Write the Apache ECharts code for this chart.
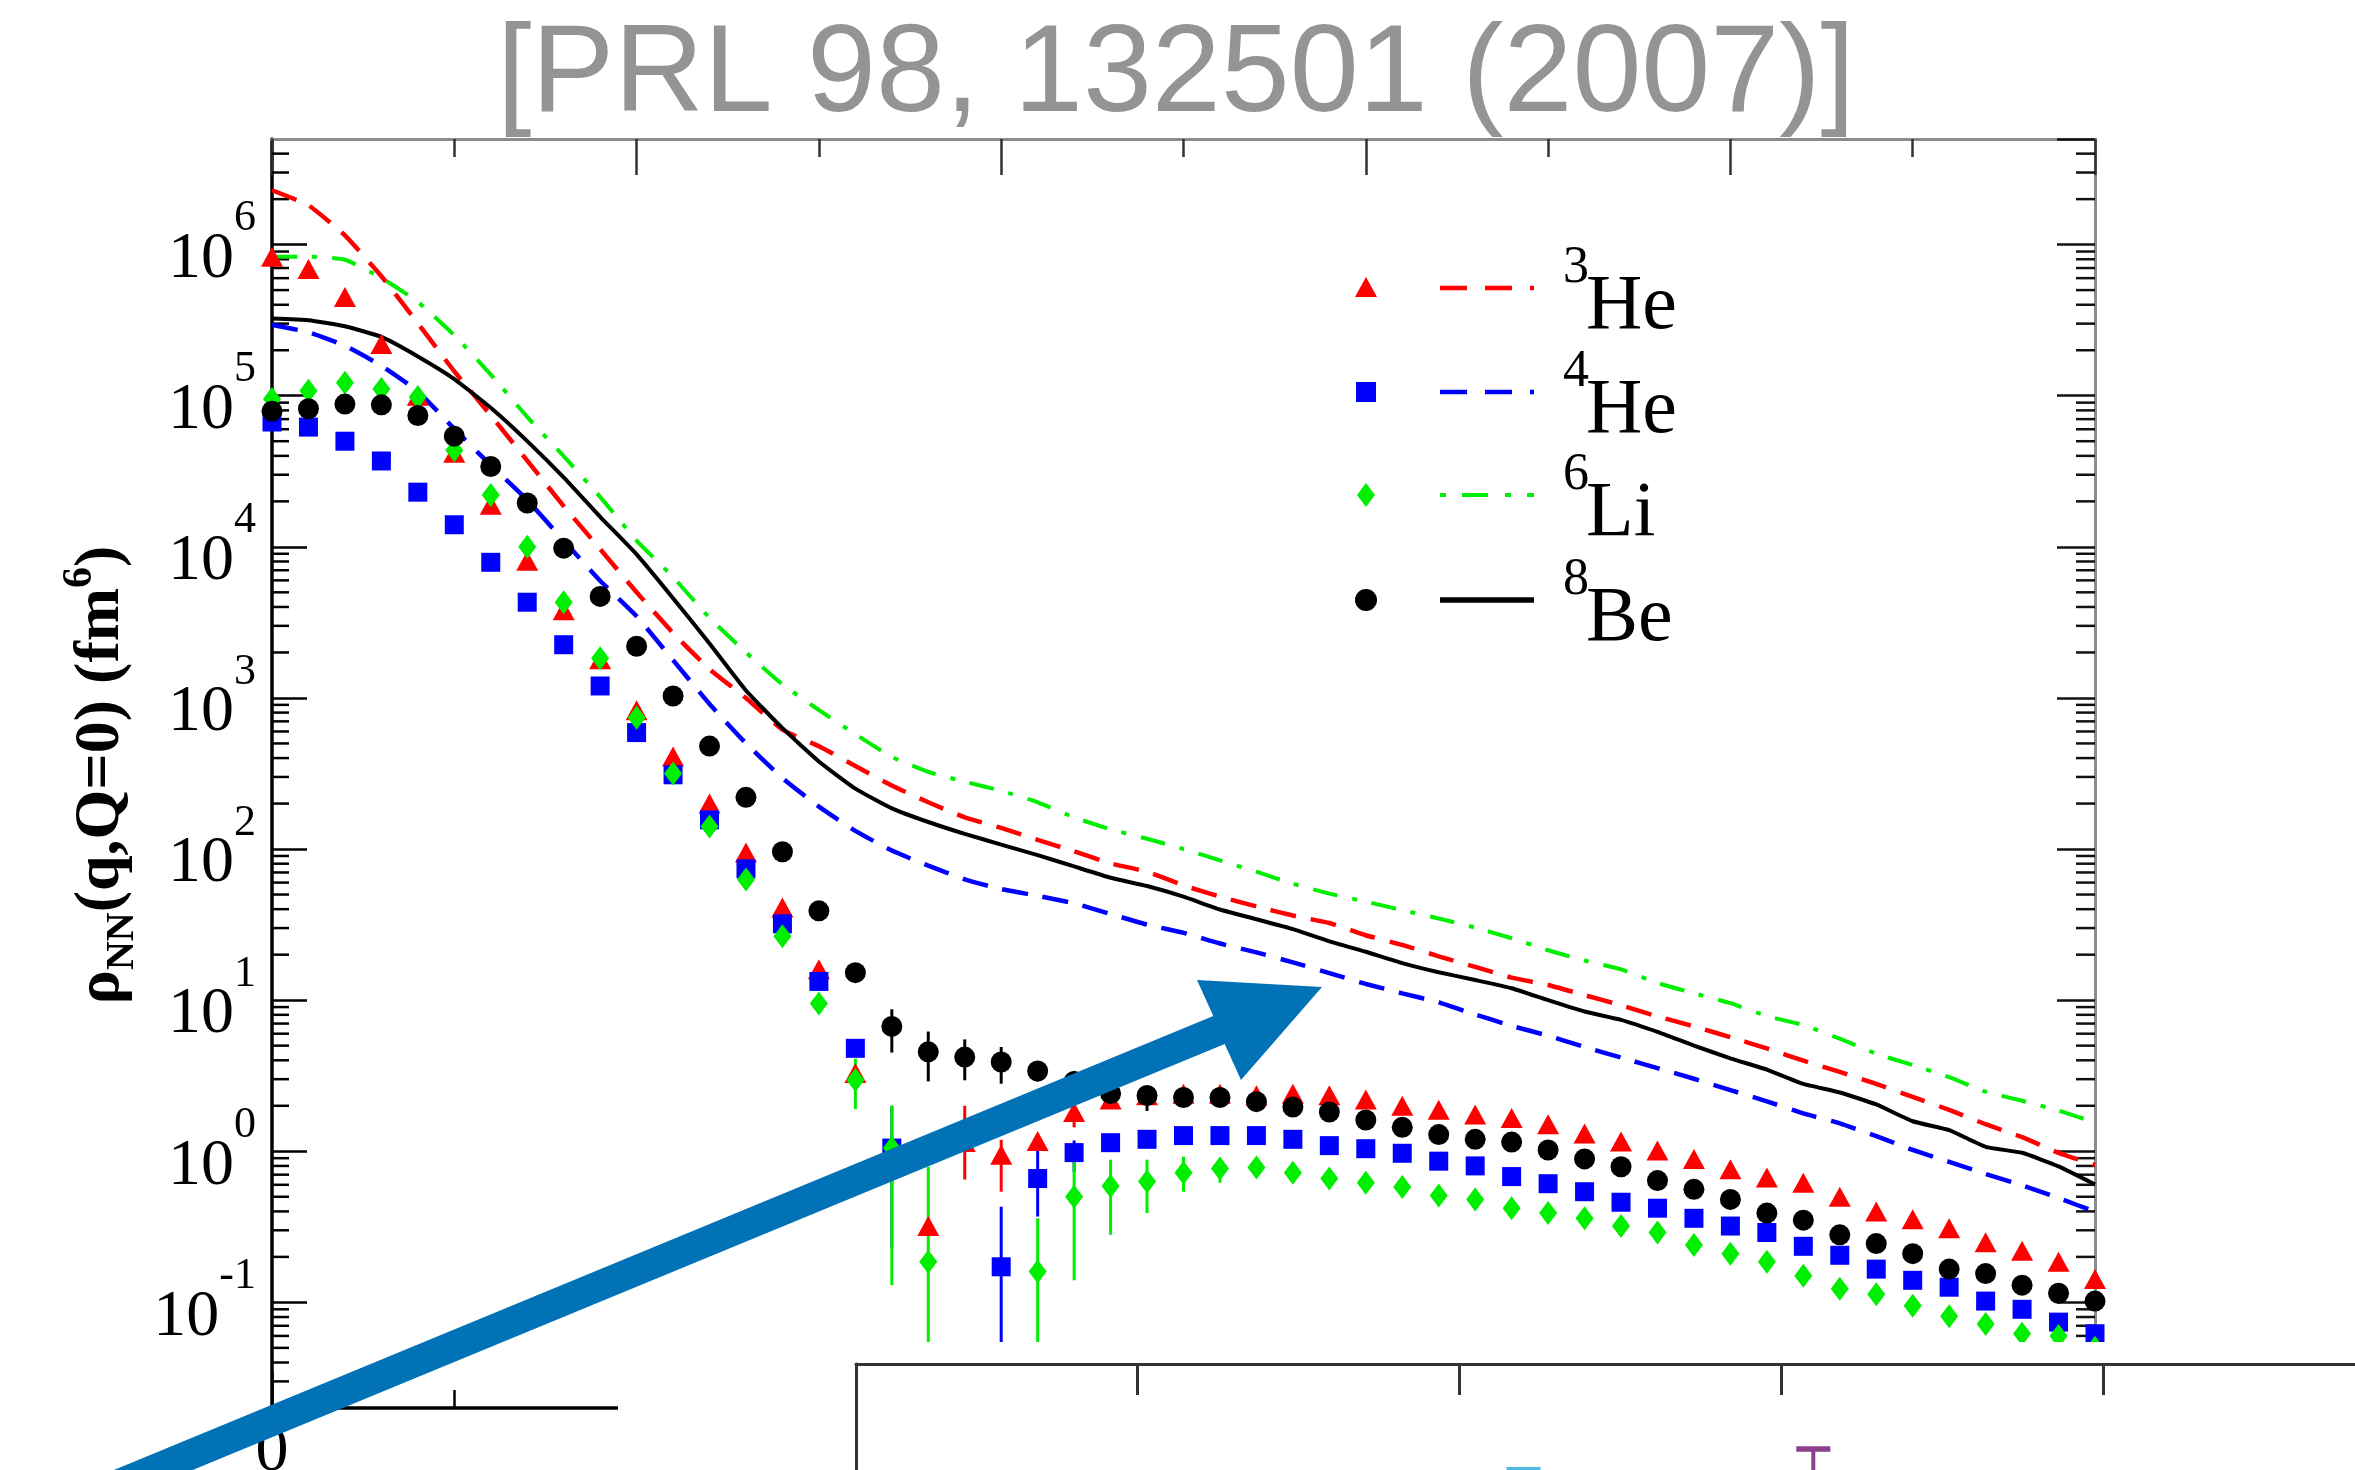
<!DOCTYPE html>
<html><head><meta charset="utf-8">
<script src="https://cdn.jsdelivr.net/npm/echarts@6/dist/echarts.min.js"></script>
<style>html,body{margin:0;padding:0;background:#fff;}#c{width:2355px;height:1470px;}</style>
</head><body><div id="c"></div>
<script>
// ---------- data (q in fm^-1, rho_NN in fm^6) ----------
const qGrid = [0,0.1,0.2,0.3,0.4,0.5,0.6,0.7,0.8,0.9,1,1.1,1.2,1.3,1.4,1.5,1.6,1.7,1.8,1.9,2,2.1,2.2,2.3,2.4,2.5,2.6,2.7,2.8,2.9,3,3.1,3.2,3.3,3.4,3.5,3.6,3.7,3.8,3.9,4,4.1,4.2,4.3,4.4,4.5,4.6,4.7,4.8,4.9,5];

// theory curves (pp pairs)
const he3Curve = [2.29e6,1.82e6,1.15e6,6.17e5,3.02e5,1.45e5,7.41e4,3.72e4,1.86e4,9.66e3,5.01e3,2.69e3,1.55e3,1.0e3,617,479,355,263,204,162,138,115,96.6,80.4,70.8,57.5,48.4,41.7,36.3,32.4,26.9,23.2,19.5,16.6,14.1,12.6,10.8,9.25,7.80,6.71,5.69,4.79,3.98,3.35,2.79,2.29,1.88,1.51,1.24,0.977,0.813];
const he4Curve = [2.95e5,2.63e5,2.14e5,1.58e5,1.07e5,6.03e4,3.47e4,2.04e4,1.10e4,5.96e3,3.47e3,1.78e3,912,501,295,191,132,97.7,77.6,63.1,54.3,49.0,43.7,37.2,31.6,27.9,23.7,20.7,17.8,15.1,12.8,11.1,9.66,8.04,6.76,5.82,4.90,4.17,3.55,3.02,2.54,2.14,1.78,1.53,1.26,1.02,0.851,0.708,0.596,0.490,0.398];
const li6Curve = [8.32e5,8.32e5,7.94e5,6.03e5,4.17e5,2.51e5,1.38e5,7.24e4,3.98e4,2.14e4,1.10e4,6.31e3,3.39e3,2.0e3,1.23e3,832,575,407,324,279,243,204,162,135,117,100,84.1,70.8,58.9,50.7,44.9,39.4,34.7,30.2,25.7,21.4,18.3,16.0,13.0,11.1,9.55,7.85,6.84,5.56,4.42,3.72,3.09,2.48,2.16,1.86,1.55];
const be8Curve = [3.24e5,3.16e5,2.88e5,2.45e5,1.82e5,1.29e5,8.32e4,5.01e4,2.88e4,1.58e4,8.91e3,4.57e3,2.29e3,1.12e3,631,380,251,186,151,126,107,91.2,76.7,64.6,56.9,48.4,39.8,34.3,29.5,24.5,20.9,17.6,15.3,13.6,12.0,10.0,8.41,7.41,6.17,5.01,4.12,3.47,2.79,2.45,2.04,1.58,1.38,1.07,0.977,0.794,0.603];

// symbols (np pairs)
const he3Pts = [8.3e5,6.9e5,4.5e5,2.2e5,1.0e5,4.2e4,1.9e4,8.1e3,3.8e3,1.8e3,830,410,200,95,41,16,3.3,0.81,0.32,1.15,0.95,1.17,1.82,2.2,2.35,2.4,2.4,2.35,2.4,2.35,2.2,2.0,1.88,1.75,1.66,1.51,1.31,1.16,1.01,0.89,0.76,0.67,0.62,0.50,0.40,0.355,0.31,0.25,0.22,0.186,0.143];
const he4Pts = [6.7e4,6.2e4,5.0e4,3.7e4,2.3e4,1.4e4,7.9e3,4.3e3,2.25e3,1.2e3,590,310,156,74,32,13.3,4.8,1.05,null,null,0.172,0.66,0.98,1.14,1.2,1.27,1.27,1.27,1.2,1.09,1.04,0.97,0.86,0.80,0.68,0.61,0.54,0.46,0.42,0.36,0.32,0.29,0.235,0.205,0.166,0.14,0.126,0.102,0.09,0.074,0.062];
const li6Pts = [9.5e4,1.08e5,1.22e5,1.11e5,9.8e4,4.35e4,2.2e4,1.0e4,4.3e3,1.83e3,740,316,141,63,26.5,9.5,2.96,1.05,0.186,null,null,0.16,0.50,0.59,0.63,0.72,0.77,0.78,0.72,0.66,0.62,0.58,0.51,0.48,0.42,0.39,0.36,0.32,0.29,0.24,0.21,0.186,0.15,0.123,0.113,0.095,0.081,0.072,0.062,0.06,0.05];
const be8Pts = [7.9e4,8.2e4,8.8e4,8.7e4,7.4e4,5.4e4,3.4e4,1.95e4,9.8e3,4.7e3,2.2e3,1.03e3,480,220,96,39,15.2,6.7,4.55,4.2,3.9,3.4,2.9,2.41,2.34,2.27,2.27,2.13,1.96,1.82,1.61,1.44,1.29,1.2,1.15,1.02,0.89,0.79,0.64,0.56,0.48,0.39,0.35,0.28,0.245,0.21,0.166,0.155,0.13,0.115,0.102];

// error bars [q, low, high]
const he3Err = [[1.9,0.65,2.0],[2.0,0.54,1.19],[2.2,1.44,1.97]];
const he4Err = [[1.7,0.23,2.0],[2.0,0.01,0.43],[2.1,0.37,1.02],[2.2,0.73,1.18]];
const li6Err = [[1.6,1.9,4.1],[1.7,0.13,2.0],[1.8,0.01,0.79],[2.1,0.01,0.36],[2.2,0.14,0.88],[2.3,0.28,0.88],[2.4,0.39,0.88],[2.5,0.54,0.92],[2.6,0.62,0.9]];
const be8Err = [[1.7,4.5,8.7],[1.8,2.9,6.2],[1.9,2.95,5.5],[2.0,2.8,4.9],[2.1,2.9,3.9],[2.2,2.4,3.4],[2.3,2.05,2.8],[2.4,1.85,2.7]];

// axis ticks
const xMajorTicks = [0,1,2,3,4,5];
const xTickLabels = ['0'];
const yMajorExponents = [-1,0,1,2,3,4,5,6];

// legend
const nucleusMass = ['3','4','6','8'];
const nucleusName = ['He','He','Li','Be'];

// partially visible second panel
const panelBX = [1.2, 2.1];
const panelBY = [2.80, 2.55];
const panelBErr = [[2.1, 2.0, 3.15]];
const panelBTicks = [0,1,2,3];

const title = '[PRL 98, 132501 (2007)]';

// ---------- chart ----------
const SERIF = 'Liberation Serif';
const colors = {he3:'#ff0000', he4:'#0000ff', li6:'#00ee00', be8:'#000000'};
const pairs = (arr) => qGrid.map((x,i)=>[x, arr[i]]).filter(p => p[1] != null);

function errBar(color, width, cap) {
  return function (params, api) {
    const x = api.value(0);
    const lo = api.coord([x, api.value(1)]);
    const hi = api.coord([x, api.value(2)]);
    const ch = [{type:'line', shape:{x1:lo[0],y1:lo[1],x2:hi[0],y2:hi[1]}, style:{stroke:color, lineWidth:width}}];
    if (cap) ch.push({type:'line', shape:{x1:hi[0]-cap/2,y1:hi[1],x2:hi[0]+cap/2,y2:hi[1]}, style:{stroke:color, lineWidth:width+1.5}});
    return {type:'group', children:ch};
  };
}

const minorTickValues = [];
for (let e = -2; e <= 6; e++) for (let m = 2; m <= 9; m++) {
  const v = m * Math.pow(10, e);
  if (v > 0.0201 && v < 4.99e6) minorTickValues.push([0, v]);
}
function minorTicks(params, api) {
  const v = api.value(1);
  const l = api.coord([0, v]); const r = api.coord([5, v]);
  return {type:'group', children:[
    {type:'line', shape:{x1:l[0], y1:l[1], x2:l[0]+17, y2:l[1]}, style:{stroke:'#000', lineWidth:2.5}},
    {type:'line', shape:{x1:r[0]-19, y1:r[1], x2:r[0], y2:r[1]}, style:{stroke:'#111', lineWidth:2.5}}
  ]};
}

const lineSeries = (name, arr, color, dash, width) => ({
  name, type:'line', xAxisIndex:0, yAxisIndex:0, data:pairs(arr), showSymbol:false, symbol:'none',
  smooth:0.15, lineStyle:{color, width, type:dash}, z:2, silent:true
});
const ptSeries = (name, arr, color, symbol, size) => ({
  name, type:'scatter', xAxisIndex:0, yAxisIndex:0, data:pairs(arr), symbol, symbolSize:size,
  itemStyle:{color, opacity:1}, z:4, silent:true
});
const errSeries = (name, arr, color) => ({
  name, type:'custom', xAxisIndex:0, yAxisIndex:0, data:arr, renderItem:errBar(color, 3), clip:true, z:3, silent:true
});

// legend graphics
const legendX = {sym:1366, l0:1440, l1:1534, sup:1563, main:1586};
const legendRows = [288, 392, 495, 600];
const legendStyles = [
  {color:colors.he3, dash:[27,18], shape:'tri', w:4.5},
  {color:colors.he4, dash:[27,18], shape:'sq', w:4.5},
  {color:colors.li6, dash:[6,16,26,17], shape:'dia', w:4},
  {color:colors.be8, dash:null, shape:'circ', w:5.5}
];
const legendGraphics = [];
legendRows.forEach((y, i) => {
  const st = legendStyles[i];
  let sym;
  if (st.shape === 'tri') sym = {type:'polygon', shape:{points:[[legendX.sym,y-11],[legendX.sym+11,y+9],[legendX.sym-11,y+9]]}, style:{fill:st.color}};
  else if (st.shape === 'sq') sym = {type:'rect', shape:{x:legendX.sym-10,y:y-10,width:20,height:20}, style:{fill:st.color}};
  else if (st.shape === 'dia') sym = {type:'polygon', shape:{points:[[legendX.sym,y-12],[legendX.sym+9,y],[legendX.sym,y+12],[legendX.sym-9,y]]}, style:{fill:st.color}};
  else sym = {type:'circle', shape:{cx:legendX.sym, cy:y, r:11}, style:{fill:st.color}};
  sym.z = 5; legendGraphics.push(sym);
  legendGraphics.push({type:'line', z:5, shape:{x1:legendX.l0,y1:y,x2:legendX.l1,y2:y},
    style:{stroke:st.color, lineWidth:st.w, lineDash:st.dash || null}});
  legendGraphics.push({type:'text', z:5, x:legendX.sup, y:y-20,
    style:{text:nucleusMass[i], fontSize:52, fontFamily:SERIF, fill:'#000', align:'left', verticalAlign:'middle'}});
  legendGraphics.push({type:'text', z:5, x:legendX.main, y:y+20,
    style:{text:nucleusName[i], fontSize:78, fontFamily:SERIF, fill:'#000', align:'left', verticalAlign:'middle'}});
});

const arrowPts = [[94.3,1478.1],[1213.3,1016.1],[1197,980],[1322,987],[1241,1080],[1224.7,1043.9],[105.7,1505.9]];

const option = {
  animation:false,
  backgroundColor:'#ffffff',
  textStyle:{fontFamily:SERIF},
  grid:[
    {left:272, top:139, width:1823, height:1269, outerBoundsMode:'none', containLabel:false},
    {left:856, top:1364, width:1600, height:400, outerBoundsMode:'none', containLabel:false}
  ],
  xAxis:[
    {gridIndex:0, type:'value', min:xMajorTicks[0], max:xMajorTicks[xMajorTicks.length-1], interval:1, position:'bottom',
     axisLine:{show:true, onZero:false, lineStyle:{color:'#000', width:3.5}},
     axisTick:{show:true, inside:true, length:36, lineStyle:{color:'#000', width:2.5}},
     minorTick:{show:true, splitNumber:2, length:18, lineStyle:{color:'#000', width:2.5}},
     axisLabel:{show:true, margin:12, fontSize:66, fontFamily:SERIF, color:'#000',
       formatter:(v)=> xTickLabels.includes(String(v)) ? String(v) : ''},
     splitLine:{show:false}, minorSplitLine:{show:false}},
    {gridIndex:0, type:'value', min:0, max:5, interval:1, position:'top',
     axisLine:{show:true, onZero:false, lineStyle:{color:'#8c8c8c', width:3}},
     axisTick:{show:true, inside:true, length:36, lineStyle:{color:'#333', width:2.5}},
     minorTick:{show:true, splitNumber:2, length:18, lineStyle:{color:'#333', width:2.5}},
     axisLabel:{show:false}, splitLine:{show:false}, minorSplitLine:{show:false}},
    {gridIndex:1, type:'value', min:-0.873, max:4.096, position:'top', z:20,
     axisLine:{show:true, onZero:false, lineStyle:{color:'#333', width:3}},
     axisTick:{show:true, inside:true, length:31, customValues:panelBTicks, lineStyle:{color:'#333', width:3}},
     axisLabel:{show:false}, splitLine:{show:false}}
  ],
  yAxis:[
    {gridIndex:0, type:'log', logBase:10, min:0.02, max:5e6, position:'left',
     axisLine:{show:true, onZero:false, lineStyle:{color:'#000', width:3.5}},
     axisTick:{show:true, inside:true, length:35, lineStyle:{color:'#000', width:2.5}},
     axisLabel:{show:true, showMinLabel:false, showMaxLabel:false, margin:16,
       formatter:(v)=>{ const e = Math.round(Math.log10(v)); return yMajorExponents.includes(e) ? '{h|\u200b}{b|10}{s|'+e+'}' : ''; },
       rich:{
         h:{fontSize:10, lineHeight:96, fontFamily:SERIF, color:'#000'},
         b:{fontSize:66, fontFamily:SERIF, color:'#000', lineHeight:66, verticalAlign:'bottom'},
         s:{fontSize:44, fontFamily:SERIF, color:'#000', lineHeight:52, verticalAlign:'top'}
       }},
     splitLine:{show:false}},
    {gridIndex:0, type:'log', logBase:10, min:0.02, max:5e6, position:'right',
     axisLine:{show:true, onZero:false, lineStyle:{color:'#8c8c8c', width:3}},
     axisTick:{show:true, inside:true, length:38, lineStyle:{color:'#111', width:2.5}},
     axisLabel:{show:false}, splitLine:{show:false}},
    {gridIndex:1, type:'value', min:0, max:4, position:'left', z:20,
     axisLine:{show:true, onZero:false, lineStyle:{color:'#333', width:3}},
     axisTick:{show:false}, axisLabel:{show:false}, splitLine:{show:false}}
  ],
  series:[
    {name:'minor ticks', type:'custom', xAxisIndex:0, yAxisIndex:0, data:minorTickValues, renderItem:minorTicks, z:1, silent:true},
    lineSeries('3He theory', he3Curve, colors.he3, [26,15], 4.5),
    lineSeries('4He theory', he4Curve, colors.he4, [26,15], 4.5),
    lineSeries('6Li theory', li6Curve, colors.li6, [25,15,5,15], 4),
    lineSeries('8Be theory', be8Curve, colors.be8, 'solid', 4),
    errSeries('3He err', he3Err, colors.he3),
    errSeries('4He err', he4Err, colors.he4),
    errSeries('6Li err', li6Err, colors.li6),
    errSeries('8Be err', be8Err, colors.be8),
    ptSeries('3He', he3Pts, colors.he3, 'triangle', [22,20]),
    ptSeries('4He', he4Pts, colors.he4, 'rect', 19),
    ptSeries('6Li', li6Pts, colors.li6, 'diamond', [18,24]),
    ptSeries('8Be', be8Pts, colors.be8, 'circle', 21),
    {name:'panel B err', type:'custom', xAxisIndex:2, yAxisIndex:2, data:panelBErr, renderItem:errBar('#8c3f8c', 4, 34), z:21, silent:true},
    {name:'panel B', type:'scatter', xAxisIndex:2, yAxisIndex:2, data:panelBX.map((x,i)=>[x, panelBY[i]]),
     symbol:'rect', symbolSize:34, z:22, silent:true,
     itemStyle:{color:(p)=> ['#22a7db','#8c3f8c'][p.dataIndex]}}
  ],
  graphic:[
    {type:'rect', z:10, shape:{x:618, y:1342, width:1800, height:200}, style:{fill:'#ffffff'}},
    {type:'text', z:5, x:1176, y:77, style:{text:title, fontSize:124, fontFamily:'Liberation Sans', fill:'#949494', align:'center', verticalAlign:'middle'}},
    {type:'text', z:5, x:101, y:775, rotation:Math.PI/2,
     style:{text:'{r|ρ}{sub|NN}{r|(q,Q=0) (fm}{sup|6}{r|)}', align:'center', verticalAlign:'middle',
       rich:{
         r:{fontSize:64, fontWeight:'bold', fontFamily:SERIF, fill:'#000', lineHeight:84, verticalAlign:'middle'},
         sub:{fontSize:40, fontWeight:'bold', fontFamily:SERIF, fill:'#000', lineHeight:40, verticalAlign:'bottom'},
         sup:{fontSize:42, fontWeight:'bold', fontFamily:SERIF, fill:'#000', lineHeight:42, verticalAlign:'top'}
       }}},
    ...legendGraphics,
    {type:'polygon', z:30, shape:{points:arrowPts}, style:{fill:'#0072b5'}}
  ]
};

const chart = echarts.init(document.getElementById('c'), null, {renderer:'canvas', width:2355, height:1470});
chart.setOption(option);
</script></body></html>
